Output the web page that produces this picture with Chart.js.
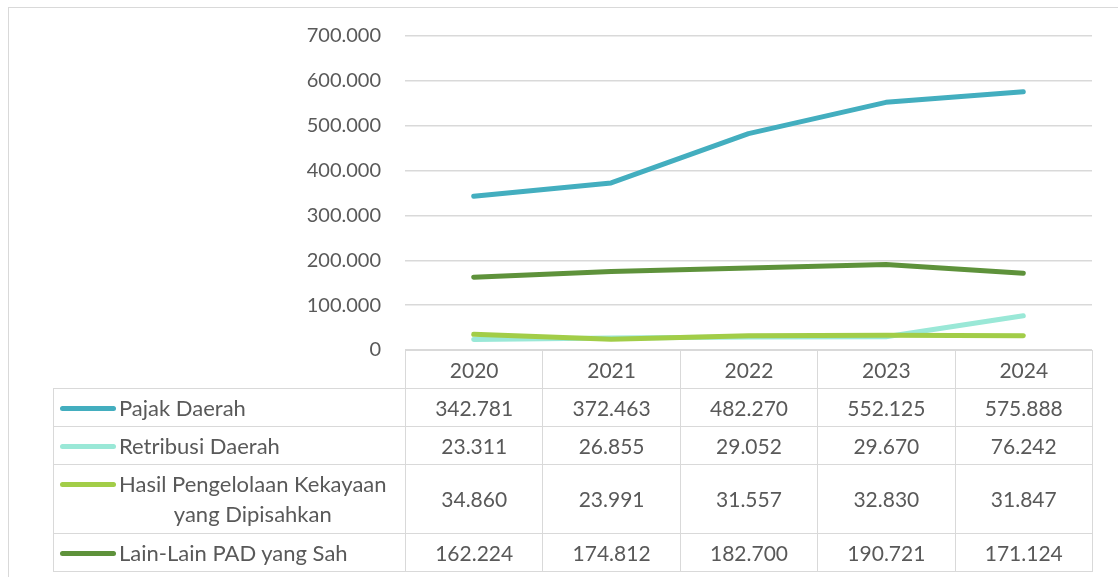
<!DOCTYPE html>
<html lang="id">
<head>
    <meta charset="UTF-8">
    <title>Pendapatan Asli Daerah 2020-2024</title>
    <script src="https://cdn.jsdelivr.net/npm/chart.js"></script>
    <style>
        body {
            margin: 0;
            background: #ffffff;
            font-family: Lato, "Open Sans", sans-serif;
            color: #595959;
        }

        .frame {
            position: absolute;
            left: 8px;
            top: 7px;
            width: 1110px;
            height: 570px;
            border-top: 1px solid #d9d9d9;
            border-left: 1px solid #d9d9d9;
        }

        .chart-box {
            position: absolute;
            left: 0;
            top: 0;
            width: 1118px;
            height: 360px;
        }

        .chart-box canvas {
            display: block;
        }

        /* data table under the plot */
        #dataTable {
            position: absolute;
            left: 53px;
            top: 350px;
            border-collapse: collapse;
            table-layout: fixed;
            font-size: 21px;
            line-height: 30px;
        }

        #dataTable td {
            border: 1px solid #d9d9d9;
            padding: 0;
            text-align: center;
            vertical-align: middle;
            height: 37px;
        }

        #dataTable td.blank {
            border-top: none;
            border-left: none;
        }

        #dataTable tr.tall td {
            height: 68px;
        }

        .legend-cell {
            display: flex;
            align-items: flex-start;
            padding-left: 6px;
        }

        .legend-key {
            flex: 0 0 56px;
            height: 5px;
            margin-top: 13px;
            margin-right: 3px;
            border-radius: 3px;
        }

        .legend-text {
            flex: 0 1 auto;
            white-space: pre-line;
            text-align: center;
            font-size: 22px;
        }
    </style>
</head>
<body>
    <div class="frame"></div>
    <div class="chart-box">
        <canvas id="padChart"></canvas>
    </div>
    <table id="dataTable"></table>

    <script>
        // Realisasi PAD per tahun (juta rupiah)
        const years = ['2020', '2021', '2022', '2023', '2024'];
        const seriesNames = [
            'Pajak Daerah',
            'Retribusi Daerah',
            'Hasil Pengelolaan Kekayaan\nyang Dipisahkan',
            'Lain-Lain PAD yang Sah'
        ];
        const pajakDaerah = [342781, 372463, 482270, 552125, 575888];
        const retribusiDaerah = [23311, 26855, 29052, 29670, 76242];
        const hasilKekayaan = [34860, 23991, 31557, 32830, 31847];
        const lainLainPad = [162224, 174812, 182700, 190721, 171124];
        const yTicks = [0, 100000, 200000, 300000, 400000, 500000, 600000, 700000];

        const seriesValues = [pajakDaerah, retribusiDaerah, hasilKekayaan, lainLainPad];
        const seriesColors = ['#43aebf', '#9ae8d7', '#a2cd48', '#5e923b'];

        // 342781 -> "342.781"
        function fmt(n) {
            return String(n).replace(/\B(?=(\d{3})+(?!\d))/g, '.');
        }

        // pin the plot area so its columns line up with the table below
        const plotBox = { left: 405, right: 1092, top: 36, bottom: 350 };

        const ctx = document.getElementById('padChart').getContext('2d');
        const padChart = new Chart(ctx, {
            type: 'line',
            data: {
                labels: years,
                datasets: seriesNames.map((name, i) => ({
                    label: name.replace('\n', ' '),
                    data: seriesValues[i],
                    borderColor: seriesColors[i],
                    backgroundColor: seriesColors[i],
                    borderWidth: 5,
                    borderCapStyle: 'round',
                    borderJoinStyle: 'round',
                    pointRadius: 0,
                    tension: 0,
                    // later series sit on top, like the spreadsheet original
                    order: seriesNames.length - i
                }))
            },
            options: {
                responsive: true,
                maintainAspectRatio: false,
                animation: false,
                events: [],
                layout: {
                    padding: { top: plotBox.top, right: 1118 - plotBox.right, bottom: 0, left: 0 }
                },
                plugins: {
                    legend: { display: false },
                    tooltip: { enabled: false }
                },
                scales: {
                    x: {
                        display: false,
                        offset: true
                    },
                    y: {
                        min: 0,
                        max: 700000,
                        afterFit: (scale) => { scale.width = plotBox.left; },
                        afterBuildTicks: (scale) => {
                            scale.ticks = yTicks.map(v => ({ value: v }));
                        },
                        border: { display: false },
                        grid: {
                            color: '#d9d9d9',
                            lineWidth: 1.5,
                            drawTicks: false
                        },
                        ticks: {
                            padding: 24,
                            color: '#595959',
                            font: { family: 'Lato', size: 20 },
                            callback: (v) => fmt(v)
                        }
                    }
                }
            }
        });

        // stretch the canvas box until the zero line lands on the table top
        const gap = plotBox.bottom - padChart.chartArea.bottom;
        if (gap !== 0) {
            const box = document.querySelector('.chart-box');
            box.style.height = (box.clientHeight + gap) + 'px';
            padChart.resize();
        }

        // Build the data table: header row with years, one row per series
        const table = document.getElementById('dataTable');
        const colgroup = document.createElement('colgroup');
        const firstCol = document.createElement('col');
        firstCol.style.width = '352px';
        colgroup.appendChild(firstCol);
        years.forEach(() => {
            const col = document.createElement('col');
            col.style.width = '137.4px';
            colgroup.appendChild(col);
        });
        table.appendChild(colgroup);

        const head = document.createElement('tr');
        const blank = document.createElement('td');
        blank.className = 'blank';
        head.appendChild(blank);
        years.forEach(y => {
            const td = document.createElement('td');
            td.textContent = y;
            head.appendChild(td);
        });
        table.appendChild(head);

        seriesNames.forEach((name, i) => {
            const tr = document.createElement('tr');
            if (name.includes('\n')) tr.className = 'tall';
            const labelTd = document.createElement('td');
            labelTd.innerHTML = '<div class="legend-cell"><span class="legend-key"></span><span class="legend-text"></span></div>';
            labelTd.querySelector('.legend-key').style.background = seriesColors[i];
            labelTd.querySelector('.legend-text').textContent = name;
            tr.appendChild(labelTd);
            seriesValues[i].forEach(v => {
                const td = document.createElement('td');
                td.textContent = fmt(v);
                tr.appendChild(td);
            });
            table.appendChild(tr);
        });
    </script>
</body>
</html>
